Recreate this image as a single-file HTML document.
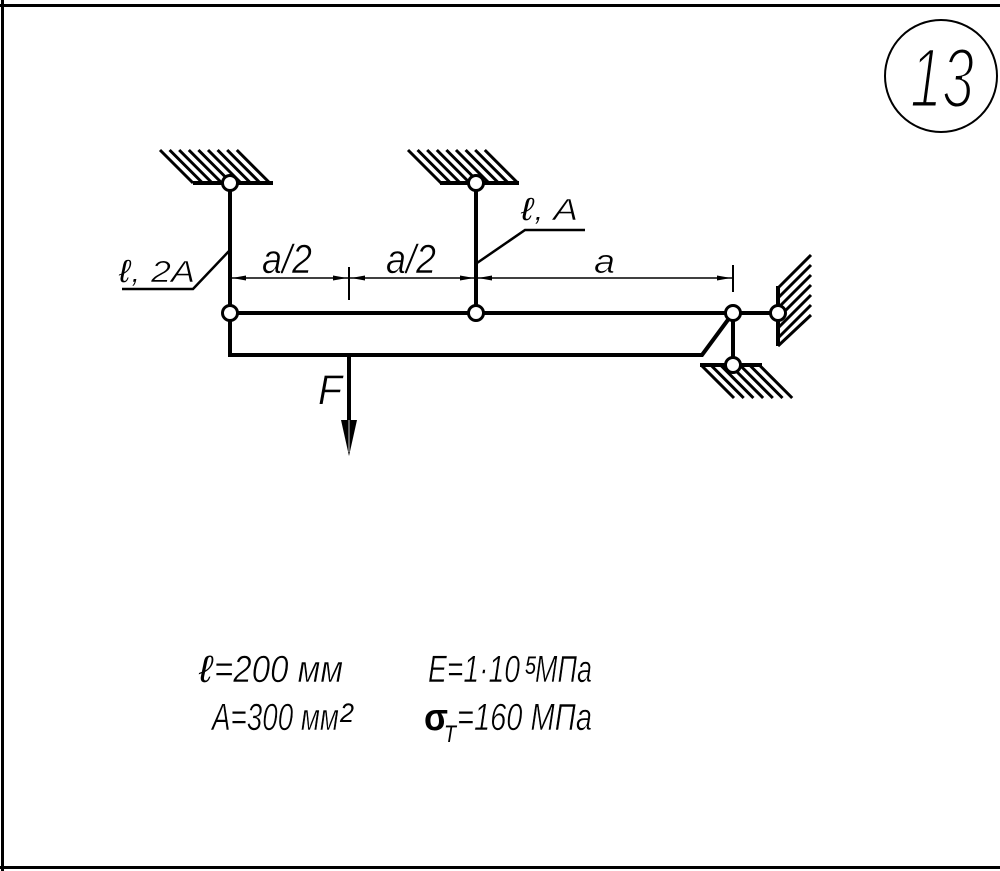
<!DOCTYPE html>
<html><head><meta charset="utf-8"><style>
html,body{margin:0;padding:0;background:#fff;}
svg{display:block;}
text{font-family:"Liberation Sans","DejaVu Sans",sans-serif;font-style:italic;fill:#000;}
.thin{stroke:#fff;stroke-width:0.6;}
</style></head><body>
<svg width="1000" height="871" viewBox="0 0 1000 871" xmlns="http://www.w3.org/2000/svg">
<!-- frame -->
<rect x="0" y="4" width="1000" height="3" fill="#000"/>
<rect x="1" y="0" width="3" height="871" fill="#000"/>
<rect x="0" y="866" width="1000" height="3" fill="#000"/>

<!-- number circle -->
<circle cx="941" cy="76" r="56" fill="none" stroke="#000" stroke-width="2"/>
<text x="910" y="107" font-size="84" textLength="64" lengthAdjust="spacingAndGlyphs" style="stroke:#fff;stroke-width:3">13</text>

<g stroke="#000" stroke-linecap="butt" fill="none">
<!-- top-left support hatch -->
<g stroke-width="3">
<line x1="160" y1="150" x2="193" y2="183"/><line x1="169.6" y1="150" x2="202.6" y2="183"/>
<line x1="179.2" y1="150" x2="212.2" y2="183"/><line x1="188.8" y1="150" x2="221.8" y2="183"/>
<line x1="198.4" y1="150" x2="231.4" y2="183"/><line x1="208" y1="150" x2="241" y2="183"/>
<line x1="217.6" y1="150" x2="250.6" y2="183"/><line x1="227.2" y1="150" x2="260.2" y2="183"/>
<line x1="236.8" y1="150" x2="269.8" y2="183"/>
</g>
<line x1="193" y1="183" x2="273" y2="183" stroke-width="4"/>
<!-- top-middle support hatch -->
<g stroke-width="3">
<line x1="408" y1="150" x2="441" y2="183"/><line x1="417.6" y1="150" x2="450.6" y2="183"/>
<line x1="427.2" y1="150" x2="460.2" y2="183"/><line x1="436.8" y1="150" x2="469.8" y2="183"/>
<line x1="446.4" y1="150" x2="479.4" y2="183"/><line x1="456" y1="150" x2="489" y2="183"/>
<line x1="465.6" y1="150" x2="498.6" y2="183"/><line x1="475.2" y1="150" x2="508.2" y2="183"/>
<line x1="484.8" y1="150" x2="517.8" y2="183"/>
</g>
<line x1="440" y1="183" x2="519" y2="183" stroke-width="4"/>

<!-- bottom-right support hatch -->
<g stroke-width="3">
<line x1="702" y1="366" x2="734" y2="398"/><line x1="711.7" y1="366" x2="743.7" y2="398"/>
<line x1="721.4" y1="366" x2="753.4" y2="398"/><line x1="731.1" y1="366" x2="763.1" y2="398"/>
<line x1="740.8" y1="366" x2="772.8" y2="398"/><line x1="750.5" y1="366" x2="782.5" y2="398"/>
<line x1="760.2" y1="366" x2="792.2" y2="398"/>
</g>
<line x1="700" y1="365" x2="762" y2="365" stroke-width="4"/>

<!-- right wall hatch -->
<g stroke-width="3">
<line x1="778" y1="288" x2="811" y2="255"/><line x1="778" y1="298" x2="811" y2="265"/>
<line x1="778" y1="308" x2="811" y2="275"/><line x1="778" y1="318" x2="811" y2="285"/>
<line x1="778" y1="328" x2="811" y2="295"/><line x1="778" y1="338" x2="811" y2="305"/>
<line x1="778" y1="346" x2="811" y2="315"/>
</g>
<line x1="778" y1="286" x2="778" y2="346" stroke-width="4"/>

<!-- rods -->
<line x1="230" y1="183" x2="230" y2="357" stroke-width="4"/>
<line x1="476" y1="183" x2="476" y2="313" stroke-width="4"/>
<line x1="230" y1="313" x2="778" y2="313" stroke-width="4"/>
<polyline points="228,355 702,355 733,313" stroke-width="4" stroke-linejoin="miter"/>
<line x1="733" y1="313" x2="733" y2="365" stroke-width="4"/>

<!-- leaders -->
<polyline points="230,250 193,289 122,289" stroke-width="2.5"/>
<polyline points="477,263 525,230 585,230" stroke-width="2.5"/>

<!-- dimension line -->
<line x1="230" y1="278" x2="733" y2="278" stroke-width="1.5"/>
<line x1="349" y1="267" x2="349" y2="300" stroke-width="2"/>
<line x1="733" y1="265" x2="733" y2="292" stroke-width="2"/>

<!-- force -->
<line x1="349" y1="355" x2="349" y2="425" stroke-width="4"/>
</g>

<!-- dimension arrowheads -->
<g fill="#000">
<polygon points="232,278 246,275.5 246,280.5"/>
<polygon points="347,278 333,275.5 333,280.5"/>
<polygon points="351,278 365,275.5 365,280.5"/>
<polygon points="474,278 460,275.5 460,280.5"/>
<polygon points="478,278 492,275.5 492,280.5"/>
<polygon points="731,278 717,275.5 717,280.5"/>
<polygon points="341,420 357,420 349,456"/>
</g>
<line x1="349" y1="420" x2="349" y2="452" stroke="#fff" stroke-width="0.8"/>

<!-- pins -->
<g fill="#fff" stroke="#000" stroke-width="3">
<circle cx="230" cy="183" r="7.5"/>
<circle cx="476" cy="183" r="7.5"/>
<circle cx="230" cy="313" r="7.5"/>
<circle cx="476" cy="313" r="7.5"/>
<circle cx="733" cy="313" r="7.5"/>
<circle cx="778" cy="313" r="7.5"/>
<circle cx="733" cy="365" r="7.5"/>
</g>

<!-- drawing labels -->
<text x="119" y="282" font-size="32" textLength="11" lengthAdjust="spacingAndGlyphs">ℓ</text>
<text class="thin" x="131" y="282" font-size="31" textLength="64" lengthAdjust="spacingAndGlyphs">, 2A</text>
<text class="thin" x="262" y="273" font-size="41" textLength="50" lengthAdjust="spacingAndGlyphs">a/2</text>
<text class="thin" x="386" y="273" font-size="41" textLength="50" lengthAdjust="spacingAndGlyphs">a/2</text>
<text class="thin" x="594" y="273" font-size="34" textLength="21" lengthAdjust="spacingAndGlyphs">a</text>
<text x="521" y="220" font-size="32" textLength="12" lengthAdjust="spacingAndGlyphs">ℓ</text>
<text class="thin" x="534" y="220" font-size="31" textLength="44" lengthAdjust="spacingAndGlyphs">, A</text>
<text class="thin" x="318" y="404" font-size="42" textLength="24" lengthAdjust="spacingAndGlyphs">F</text>

<!-- data -->
<text x="199" y="682" font-size="38" textLength="13" lengthAdjust="spacingAndGlyphs">ℓ</text>
<text class="thin" x="214" y="682" font-size="38" textLength="129" lengthAdjust="spacingAndGlyphs">=200 мм</text>
<text class="thin" x="212" y="730" font-size="38" textLength="127" lengthAdjust="spacingAndGlyphs">A=300 мм</text>
<text x="340" y="722" font-size="27" textLength="14" lengthAdjust="spacingAndGlyphs">2</text>
<text class="thin" x="428" y="682" font-size="38" textLength="92" lengthAdjust="spacingAndGlyphs">E=1·10</text>
<text x="525" y="674" font-size="25" textLength="11" lengthAdjust="spacingAndGlyphs">5</text>
<text class="thin" x="535" y="682" font-size="38" textLength="57" lengthAdjust="spacingAndGlyphs">МПа</text>
<text x="424" y="730" font-size="38" textLength="24" lengthAdjust="spacingAndGlyphs" style="font-style:normal;font-weight:bold">σ</text>
<text x="444" y="742" font-size="24" textLength="12" lengthAdjust="spacingAndGlyphs">T</text>
<text class="thin" x="457" y="730" font-size="38" textLength="135" lengthAdjust="spacingAndGlyphs">=160 МПа</text>
</svg>
</body></html>
